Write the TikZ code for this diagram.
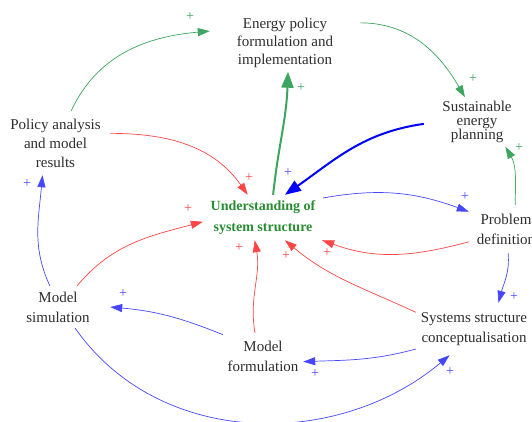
\documentclass[tikz,border=0pt]{standalone}
\usepackage{fontspec}
\setmainfont{Liberation Serif}
\usetikzlibrary{arrows.meta}

\definecolor{txtgrey}{RGB}{45,45,45}
\definecolor{loopgreen}{RGB}{60,165,95}
\definecolor{keygreen}{RGB}{40,140,50}
\definecolor{loopred}{RGB}{255,70,70}
\definecolor{loopblue}{RGB}{70,70,255}

\begin{document}
\begin{tikzpicture}[x=1pt,y=1pt,
		var/.style={align=center,inner sep=0pt,text=txtgrey,font=\fontsize{15}{20}\selectfont},
		sign/.style={inner sep=0pt,font=\fontsize{14}{14}\selectfont},
		link/.style={line width=0.7pt,-{Triangle[length=12pt,width=8pt]}},
		mainlink/.style={line width=2pt,-{Triangle[length=16pt,width=12pt]}}]
		\useasboundingbox (0,0) rectangle (532,-421);

		% variables
		\node [var,minimum width=150,minimum height=57,font=\fontsize{15}{18}\selectfont] (energy) at ( 285, -43 ) {Energy policy\\formulation and\\implementation};
		\node [var,minimum width=106,minimum height=49,font=\fontsize{15}{14}\selectfont] (plan) at ( 477, -122 ) {Sustainable\\energy\\planning};
		\node [var,minimum width=109,minimum height=64,font=\fontsize{15}{19}\selectfont] (policy) at ( 55.5, -143 ) {Policy analysis\\and model\\results};
		\node [var,minimum width=120,minimum height=45,text=keygreen,font=\bfseries\fontsize{14}{21}\selectfont] (under) at ( 263, -217.5 ) {Understanding of\\system structure};
		\node [var,minimum width=74,minimum height=48] (problem) at ( 506, -229 ) {Problem\\definition};
		\node [var,minimum width=116,minimum height=52] (concept) at ( 474, -329 ) {Systems structure\\conceptualisation};
		\node [var,minimum width=104,minimum height=42] (simul) at ( 58, -307 ) {Model\\simulation};
		\node [var,minimum width=80,minimum height=46] (formul) at ( 263, -356 ) {Model\\formulation};

		% green links
		\draw [link,loopgreen] (policy.64) to [ out = 65, in = 185 ] (energy.171);
		\draw [link,loopgreen] (energy.15) to [ out = 0, in = 120 ] (plan.116);
		\draw [link,loopgreen] (problem.69) to [ out = 90, in = -60 ] (plan.-41);
		\draw [mainlink,loopgreen] (under.66) to [ out = 84, in = -92 ] (energy.-84);

		% blue links
		\draw [mainlink,blue] (plan.182) to [ out = 188, in = 35 ] (under.46);
		\draw [link,loopblue] (under.18) to [ out = 10, in = 160 ] (problem.155);
		\draw [link,loopblue] (problem.-85) to [ out = -85, in = 75 ] (concept.47);
		\draw [link,loopblue] (concept.199) to [ out = 195, in = 2 ] (formul.-8);
		\draw [link,loopblue] (formul.152) to [ out = 158, in = -5 ] (simul.0);
		\draw [link,loopblue] (simul.111) to [ out = 115, in = -95 ] (policy.-112);
		\draw [link,loopblue] (simul.-51) to [ out = -55, in = -140 ] (concept.-133);

		% red links
		\draw [link,loopred] (policy.10) to [ out = 0, in = 125 ] (under.124);
		\draw [link,loopred] (simul.48) to [ out = 50, in = 195 ] (under.184);
		\draw [link,loopred] (formul.109) to [ out = 100, in = -80 ] (under.-110);
		\draw [link,loopred] (concept.164) to [ out = 155, in = -40 ] (under.-46);
		\draw [link,loopred] (problem.199) to [ out = 195, in = -20 ] (under.-21);

		% polarities
		\node [sign,loopgreen] (s1) at ( 190, -17 ) {+};
		\node [sign,loopgreen] (s2) at ( 473, -79 ) {+};
		\node [sign,loopgreen] (s3) at ( 301, -88 ) {+};
		\node [sign,loopgreen] (s4) at ( 519, -148 ) {+};
		\node [sign,loopblue] (s5) at ( 288, -173 ) {+};
		\node [sign,loopblue] (s6) at ( 465, -197 ) {+};
		\node [sign,loopblue] (s7) at ( 514, -297 ) {+};
		\node [sign,loopblue] (s8) at ( 27, -184 ) {+};
		\node [sign,loopblue] (s9) at ( 123, -294 ) {+};
		\node [sign,loopblue] (s10) at ( 315, -374 ) {+};
		\node [sign,loopblue] (s11) at ( 450, -372 ) {+};
		\node [sign,loopred] (s12) at ( 249, -178 ) {+};
		\node [sign,loopred] (s13) at ( 188, -209 ) {+};
		\node [sign,loopred] (s14) at ( 239, -248 ) {+};
		\node [sign,loopred] (s15) at ( 286, -256 ) {+};
		\node [sign,loopred] (s16) at ( 327, -253 ) {+};
	\end{tikzpicture}
\end{document}
